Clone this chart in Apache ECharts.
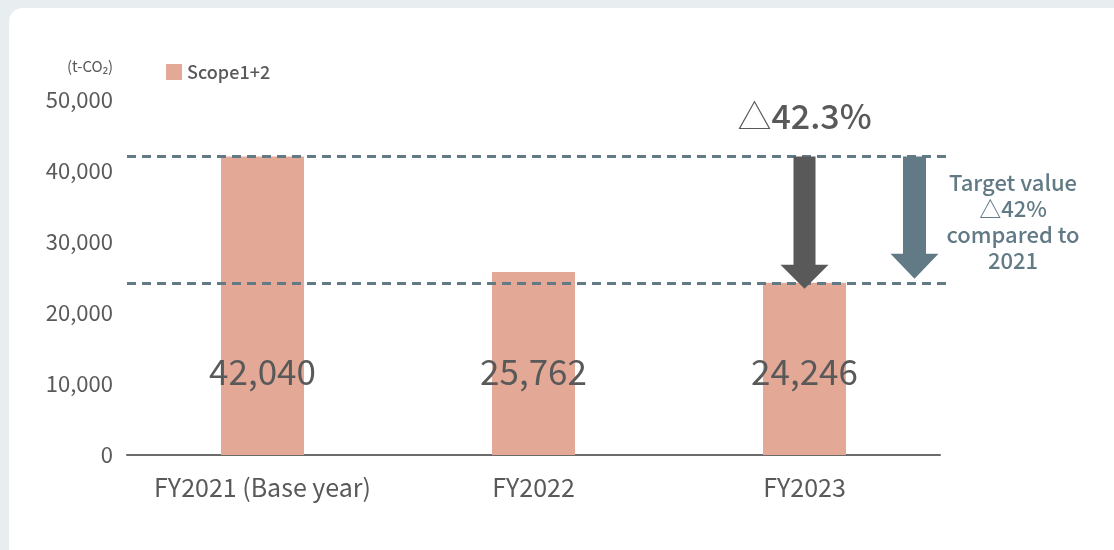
<!DOCTYPE html>
<html>
<head>
<meta charset="utf-8">
<script src="https://cdn.jsdelivr.net/npm/echarts@6/dist/echarts.min.js"></script>
<style>
  html, body { margin:0; padding:0; width:1114px; height:550px; overflow:hidden; background:#e8eef0; }
  #card { position:absolute; left:9px; top:8px; width:1200px; height:600px; background:#fff; border-radius:14px; }
  #chart { position:absolute; left:0; top:0; width:1114px; height:550px; }
</style>
</head>
<body>
<div id="card"></div>
<div id="chart"></div>
<script>
const categories = ['FY2021 (Base year)', 'FY2022', 'FY2023'];
const scopeValues = [42040, 25762, 24246];
const yTicks = [0, 10000, 20000, 30000, 40000, 50000];
const seriesName = 'Scope1+2';
const unitLabel = '(t-CO\u2082)';
const reductionMark = '\u25b3';
const reductionValue = '42.3%';
const targetLines = ['Target value', '\u25b342%', 'compared to', '2021'];

const FONT = '"Noto Sans CJK JP", "Noto Sans", sans-serif';
const GRAY = '#595959';
const BLUE = '#627a85';
const BAR = '#e3a996';

const chart = echarts.init(document.getElementById('chart'), null, { renderer: 'canvas' });

const option = {
  backgroundColor: 'transparent',
  animation: false,
  textStyle: { fontFamily: FONT },
  grid: { left: 127, right: 174, top: 100, bottom: 95, containLabel: false },
  legend: {
    data: [seriesName], left: 161, top: 58, itemWidth: 16, itemHeight: 16, itemGap: 7,
    icon: 'rect',
    textStyle: { fontFamily: FONT, fontSize: 18, color: GRAY, fontWeight: 500 }
  },
  xAxis: {
    type: 'category', data: categories,
    axisLine: { lineStyle: { color: '#6b6b6b', width: 2 } },
    axisTick: { show: false },
    axisLabel: { color: GRAY, fontSize: 25, fontFamily: FONT, margin: 20, interval: 0, hideOverlap: false }
  },
  yAxis: {
    type: 'value', min: yTicks[0], max: yTicks[yTicks.length - 1], interval: 10000,
    axisLine: { show: false }, axisTick: { show: false }, splitLine: { show: false },
    axisLabel: {
      color: GRAY, fontSize: 22, fontFamily: FONT, margin: 14,
      formatter: v => v.toLocaleString('en-US')
    }
  },
  series: [{
    name: seriesName, type: 'bar', data: scopeValues, barWidth: 83,
    itemStyle: { color: BAR },
    label: {
      show: true, position: 'insideBottom', distance: 66,
      color: GRAY, fontSize: 35, fontFamily: FONT,
      formatter: p => p.value.toLocaleString('en-US')
    },
    markLine: {
      silent: true, symbol: 'none',
      lineStyle: { color: BLUE, type: [9, 6], width: 3 },
      label: { show: false },
      data: [
        [{ xAxis: 0, yAxis: scopeValues[0], x: 127 }, { x: 946, yAxis: scopeValues[0] }],
        [{ xAxis: 0, yAxis: scopeValues[2], x: 127 }, { x: 946, yAxis: scopeValues[2] }]
      ]
    }
  }]
};
chart.setOption(option);

function arrow(cx, yTop, yBottom, shaftW, headW, headH, color) {
  return {
    type: 'polygon', z: 50,
    shape: { points: [
      [cx - shaftW / 2, yTop], [cx + shaftW / 2, yTop], [cx + shaftW / 2, yBottom - headH],
      [cx + headW / 2, yBottom - headH], [cx, yBottom], [cx - headW / 2, yBottom - headH],
      [cx - shaftW / 2, yBottom - headH]
    ] },
    style: { fill: color }
  };
}

const pTop = chart.convertToPixel({ xAxisIndex: 0, yAxisIndex: 0 }, [2, scopeValues[0]]);
const pBot = chart.convertToPixel({ xAxisIndex: 0, yAxisIndex: 0 }, [2, scopeValues[2]]);
const cx3 = pTop[0];
const cx4 = cx3 + 110;

chart.setOption({
  graphic: [
    { type: 'text', left: 67, top: 59, style: { text: unitLabel, font: '15px ' + FONT, fill: GRAY } },
    arrow(cx3, pTop[1], pBot[1] + 6, 22, 48, 24, GRAY),
    arrow(cx4, pTop[1], pBot[1] - 4, 23, 48, 25, BLUE),
    { type: 'text', z: 60, x: cx3, y: 116,
      style: {
        text: '{t|' + reductionMark + '}{v|' + reductionValue + '}',
        textAlign: 'center', textVerticalAlign: 'middle',
        rich: {
          t: { fontFamily: FONT, fontSize: 34, fontWeight: 300, fill: GRAY, color: GRAY },
          v: { fontFamily: FONT, fontSize: 34, fontWeight: 500, fill: GRAY, color: GRAY }
        }
      } },
    { type: 'text', z: 60, x: 1013, y: 222,
      style: { text: targetLines.join('\n'), font: '500 22px ' + FONT, lineHeight: 26, fill: BLUE, textAlign: 'center', textVerticalAlign: 'middle' } }
  ]
});
</script>
</body>
</html>
